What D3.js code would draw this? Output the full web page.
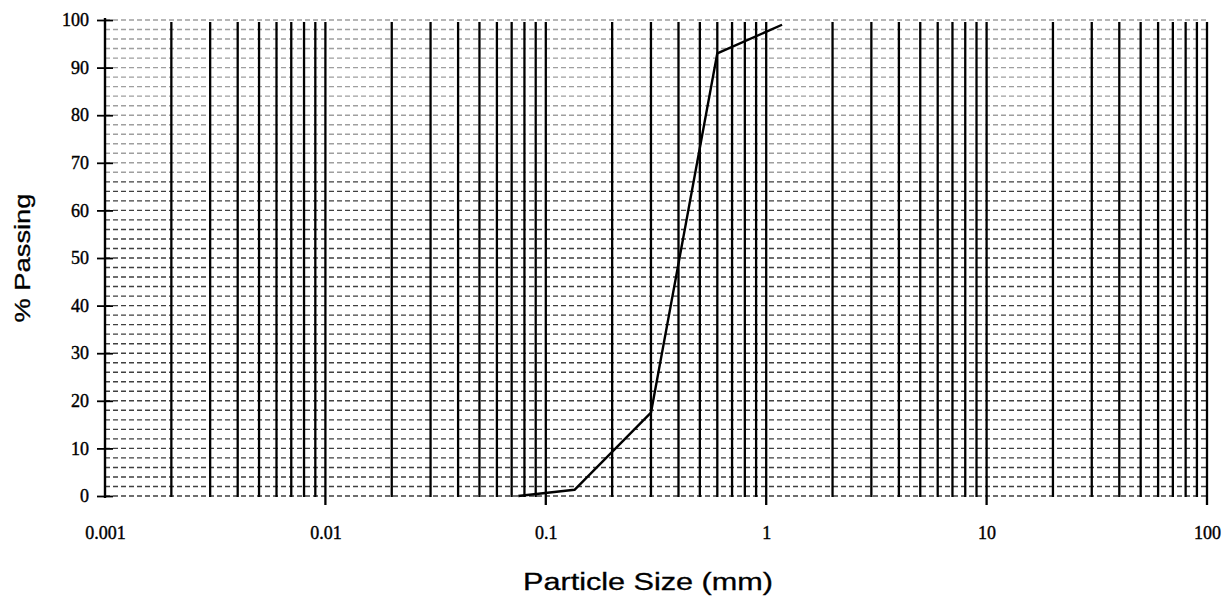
<!DOCTYPE html>
<html>
<head>
<meta charset="utf-8">
<script src="https://cdn.jsdelivr.net/npm/d3@7"></script>
<style>
  html, body { margin: 0; padding: 0; background: #fff; }
  svg { display: block; }
</style>
</head>
<body>
<svg id="chart" width="1226" height="602"></svg>
<script>
// ---- data ----
const xTickValues = [0.001, 0.01, 0.1, 1, 10, 100];
const xTickLabels = ["0.001", "0.01", "0.1", "1", "10", "100"];
const yTickValues = [0, 10, 20, 30, 40, 50, 60, 70, 80, 90, 100];
const yTickLabels = ["0", "10", "20", "30", "40", "50", "60", "70", "80", "90", "100"];
const sizeMm = [0.075, 0.135, 0.3, 0.6, 1.18];
const passingPct = [0, 1.3, 17.5, 93, 99];
const xTitle = "Particle Size (mm)";
const yTitle = "% Passing";

// ---- drawing ----
const svg = d3.select("#chart");
const x = d3.scaleLog().domain([0.001, 100]).range([105, 1207]);
const y = d3.scaleLinear().domain([0, 100]).range([496, 20]);

const g = svg.append("g");

// horizontal dashed grid every 2 %
const hVals = y.ticks(50);
g.append("g").selectAll("line").data(hVals).join("line")
  .attr("x1", x(0.001)).attr("x2", x(100))
  .attr("y1", d => y(d)).attr("y2", d => y(d))
  .attr("stroke", "#111")
  .attr("stroke-width", 1.4)
  .attr("stroke-dasharray", "5,3")
  .attr("opacity", d => d > 66 ? 0.4 : 0.8);

// vertical log grid lines (1..9 per decade)
const vVals = x.ticks().filter(d => d > 0.001 * 1.0001);
const isDecade = d => Math.abs(Math.log10(d) - Math.round(Math.log10(d))) < 1e-6;
g.append("g").selectAll("line").data(vVals).join("line")
  .attr("x1", d => x(d)).attr("x2", d => x(d))
  .attr("y1", y(100) + 2)
  .attr("y2", d => isDecade(d) ? y(0) + 9 : y(0) + 1)
  .attr("stroke", "#000")
  .attr("stroke-width", 2.3);

// y axis line with crossing ticks
const yAxis = d3.axisLeft(y).tickValues(yTickValues).tickFormat((d, i) => yTickLabels[i])
  .tickSizeInner(0).tickSizeOuter(0).tickPadding(16);
const ya = g.append("g").attr("transform", `translate(${x(0.001)},0)`).call(yAxis);
ya.select(".domain").attr("stroke", "#000").attr("stroke-width", 2.4)
  .attr("d", `M0,${y(100) - 2}V${y(0) + 2}`);
ya.selectAll(".tick line").attr("x1", -8).attr("x2", 8)
  .attr("stroke", "#000").attr("stroke-width", 1.8);
ya.selectAll(".tick text")
  .attr("font-family", "'Liberation Serif', 'DejaVu Serif', serif")
  .attr("font-size", 18).attr("fill", "#000")
  .attr("stroke", "#000").attr("stroke-width", 0.4);

// x axis tick labels
const xAxis = d3.axisBottom(x).tickValues(xTickValues).tickFormat((d, i) => xTickLabels[i])
  .tickSizeInner(0).tickSizeOuter(0).tickPadding(30);
const xa = g.append("g").attr("transform", `translate(0,${y(0)})`).call(xAxis);
xa.select(".domain").remove();
xa.selectAll(".tick text")
  .attr("font-family", "'Liberation Serif', 'DejaVu Serif', serif")
  .attr("font-size", 18).attr("fill", "#000")
  .attr("stroke", "#000").attr("stroke-width", 0.4);

// data curve
const pts = sizeMm.map((s, i) => [s, passingPct[i]]);
g.append("path").datum(pts)
  .attr("fill", "none").attr("stroke", "#000").attr("stroke-width", 2.4)
  .attr("stroke-linejoin", "round")
  .attr("d", d3.line().x(d => x(d[0])).y(d => y(d[1])));

// axis titles
svg.append("text")
  .attr("x", 648).attr("y", 590)
  .attr("text-anchor", "middle")
  .attr("font-family", "'Liberation Sans', Arial, sans-serif")
  .attr("font-size", 23)
  .attr("stroke", "#000").attr("stroke-width", 0.3)
  .attr("textLength", 250).attr("lengthAdjust", "spacingAndGlyphs")
  .text(xTitle);

svg.append("text")
  .attr("transform", "translate(30,258) rotate(-90)")
  .attr("text-anchor", "middle")
  .attr("font-family", "'Liberation Sans', Arial, sans-serif")
  .attr("font-size", 22)
  .attr("stroke", "#000").attr("stroke-width", 0.3)
  .attr("textLength", 129).attr("lengthAdjust", "spacingAndGlyphs")
  .text(yTitle);
</script>
</body>
</html>
